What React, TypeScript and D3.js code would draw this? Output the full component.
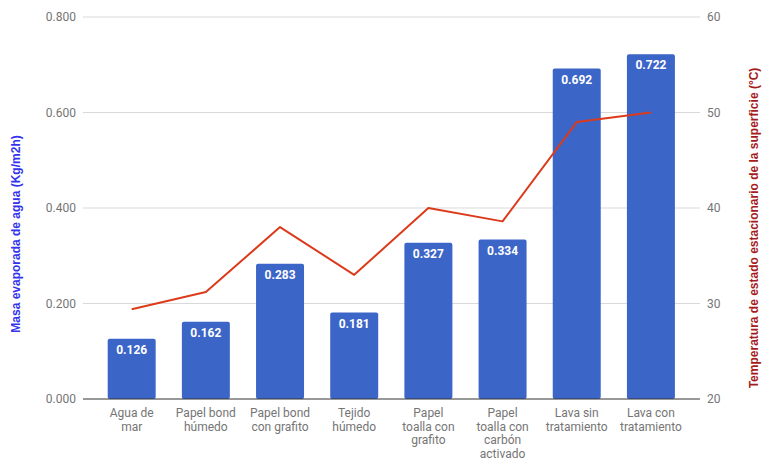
import React from "react";
import * as d3 from "d3";

const categories: string[][] = [
  ["Agua de", "mar"],
  ["Papel bond", "húmedo"],
  ["Papel bond", "con grafito"],
  ["Tejido", "húmedo"],
  ["Papel", "toalla con", "grafito"],
  ["Papel", "toalla con", "carbón", "activado"],
  ["Lava sin", "tratamiento"],
  ["Lava con", "tratamiento"],
];
const masa: number[] = [0.126, 0.162, 0.283, 0.181, 0.327, 0.334, 0.692, 0.722];
const temperatura: number[] = [29.4, 31.2, 38.0, 33.0, 40.0, 38.6, 49.0, 50.0];
const leftTicks: number[] = [0, 0.2, 0.4, 0.6, 0.8];
const rightTicks: number[] = [20, 30, 40, 50, 60];
const leftTitle = "Masa evaporada de agua (Kg/m2h)";
const rightTitle = "Temperatura de estado estacionario de la superficie (°C)";

const W = 762;
const H = 460;
const plotL = 83;
const plotR = 700;
const plotT = 17;
const plotB = 399;
const font = "Roboto, Arial, sans-serif";
const titleFont = "'Liberation Sans', Arial, sans-serif";

export default function App() {
  const ids = categories.map((_, i) => String(i));
  const x = d3
    .scaleBand<string>()
    .domain(ids)
    .range([94.6, 688])
    .paddingInner(0.353)
    .paddingOuter(0.1765);
  const yL = d3.scaleLinear().domain([0, 0.8]).range([plotB, plotT]);
  const yR = d3.scaleLinear().domain([20, 60]).range([plotB, plotT]);
  const line = d3
    .line<number>()
    .x((_, i) => (x(ids[i]) as number) + x.bandwidth() / 2)
    .y((d) => yR(d));

  return (
    <svg width={W} height={H} style={{ position: "absolute", left: 0, top: 0, background: "#fff" }} fontFamily={font}>
      {leftTicks.map((t) => (
        <g key={"g" + t}>
          {t !== 0 && (
            <line x1={plotL} x2={plotR} y1={yL(t)} y2={yL(t)} stroke="#d9d9d9" strokeWidth={1} />
          )}
          <text x={76} y={yL(t)} dy="0.35em" textAnchor="end" fontSize={12} fill="#757575">
            {d3.format(".3f")(t)}
          </text>
        </g>
      ))}
      {rightTicks.map((t) => (
        <text key={"r" + t} x={707} y={yR(t)} dy="0.35em" textAnchor="start" fontSize={12} fill="#757575">
          {t}
        </text>
      ))}
      {masa.map((v, i) => (
        <g key={"b" + i}>
          <rect
            x={x(ids[i])}
            y={yL(v)}
            width={x.bandwidth()}
            height={plotB - yL(v)}
            fill="#3c65c8"
            rx={2}
          />
          <text
            x={(x(ids[i]) as number) + x.bandwidth() / 2}
            y={yL(v) + 15}
            textAnchor="middle"
            fontSize={12}
            fontWeight="bold"
            fill="#ffffff"
          >
            {d3.format(".3f")(v)}
          </text>
        </g>
      ))}
      <line x1={plotL} x2={plotR} y1={plotB} y2={plotB} stroke="#333333" strokeWidth={1} />
      <path d={line(temperatura) || ""} fill="none" stroke="#db3b1b" strokeWidth={2} strokeLinejoin="round" />
      {categories.map((lines, i) => (
        <text
          key={"c" + i}
          x={(x(ids[i]) as number) + x.bandwidth() / 2}
          y={417}
          textAnchor="middle"
          fontSize={12}
          fill="#757575"
        >
          {lines.map((l, j) => (
            <tspan key={j} x={(x(ids[i]) as number) + x.bandwidth() / 2} dy={j === 0 ? 0 : 13.5}>
              {l}
            </tspan>
          ))}
        </text>
      ))}
      <text
        transform={`translate(16,234) rotate(-90)`}
        textAnchor="middle"
        dy="0.35em"
        fontSize={12}
        fontWeight="bold"
        fontFamily={titleFont}
        fill="#3333ee"
      >
        {leftTitle}
      </text>
      <text
        transform={`translate(754,228) rotate(-90)`}
        textAnchor="middle"
        dy="0.35em"
        fontSize={12}
        fontWeight="bold"
        fontFamily={titleFont}
        fill="#a61c1c"
      >
        {rightTitle}
      </text>
    </svg>
  );
}
